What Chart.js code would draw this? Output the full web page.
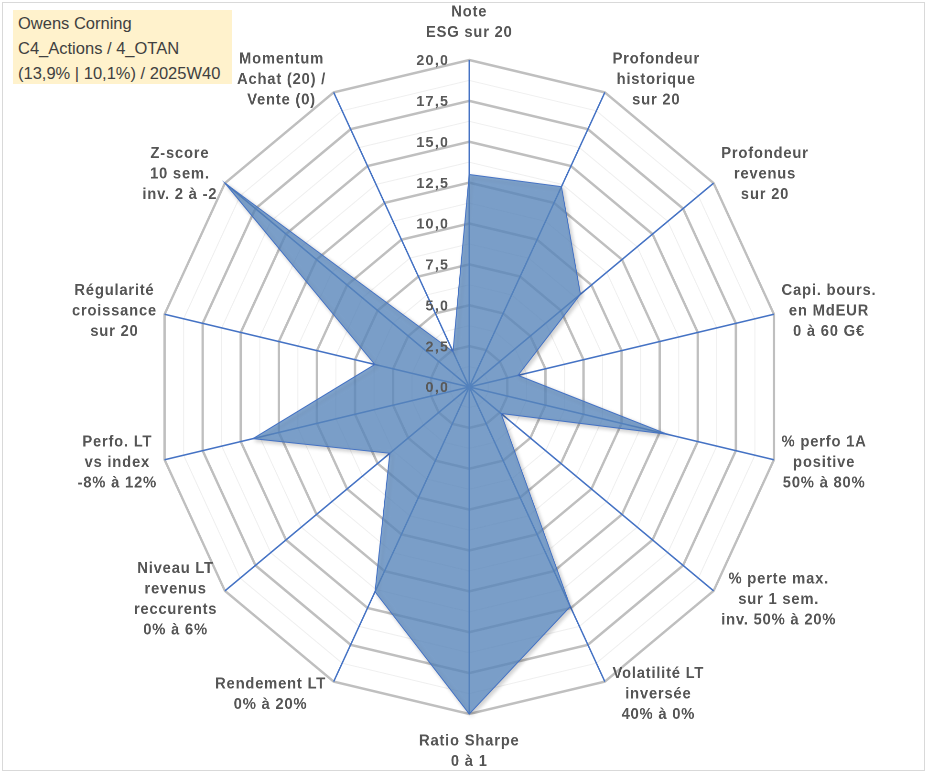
<!DOCTYPE html>
<html>
<head>
<meta charset="utf-8">
<script src="https://cdn.jsdelivr.net/npm/chart.js@4.4.1/dist/chart.umd.min.js"></script>
<style>
  html, body { margin: 0; padding: 0; background: #ffffff; }
  #page { position: relative; width: 933px; height: 776px; overflow: hidden; background: #ffffff; }
  #frame { position: absolute; left: 2px; top: 2px; width: 923px; height: 769px; border: 1px solid #D9D9D9; box-sizing: border-box; }
  #stage { position: absolute; left: 0; top: 0; width: 976px; height: 776px; transform: scaleX(0.9557); transform-origin: 0 0; }
  #chart { display: block; width: 976px; height: 776px; }
  #title { position: absolute; left: 13px; top: 10px; width: 219px; height: 74px; background: #FFF2CC;
           font-family: "Liberation Sans", Arial, sans-serif; font-size: 16.5px; color: #404040;
           line-height: 25px; padding: 1px 0 0 5px; box-sizing: border-box; white-space: nowrap; }
</style>
</head>
<body>
<div id="page">
  <div id="frame"></div>
  <div id="stage"><canvas id="chart" width="976" height="776"></canvas></div>
  <div id="title"></div>
</div>
<script>
// ---- data ----
const titleLines = ['Owens Corning', 'C4_Actions / 4_OTAN', '(13,9% | 10,1%) / 2025W40'];
const categories = [
  ['Note', 'ESG sur 20'],
  ['Profondeur', 'historique', 'sur 20'],
  ['Profondeur', 'revenus', 'sur 20'],
  ['Capi. bours.', 'en MdEUR', '0 à 60 G€'],
  ['% perfo 1A', 'positive', '50% à 80%'],
  ['% perte max.', 'sur 1 sem.', 'inv. 50% à 20%'],
  ['Volatilité LT', 'inversée', '40% à 0%'],
  ['Ratio Sharpe', '0 à 1'],
  ['Rendement LT', '0% à 20%'],
  ['Niveau LT', 'revenus', 'reccurents', '0% à 6%'],
  ['Perfo. LT', 'vs index', '-8% à 12%'],
  ['Régularité', 'croissance', 'sur 20'],
  ['Z-score', '10 sem.', 'inv. 2 à -2'],
  ['Momentum', 'Achat (20) /', 'Vente (0)']
];
const scores = [13.0, 13.6, 9.1, 3.2, 13.0, 2.6, 14.9, 20.0, 13.9, 6.5, 14.2, 6.2, 20.0, 2.4];
const tickValues = [0, 2.5, 5, 7.5, 10, 12.5, 15, 17.5, 20];
const tickLabels = ['0,0', '2,5', '5,0', '7,5', '10,0', '12,5', '15,0', '17,5', '20,0'];

document.getElementById('title').innerHTML = titleLines.map(t => '<div>' + t + '</div>').join('');

const FONT = '"Liberation Sans", Arial, sans-serif';

const shadowPlugin = {
  id: 'seriesShadow',
  beforeDatasetsDraw(chart) {
    const ctx = chart.ctx;
    const r = chart.currentDevicePixelRatio || 1;
    ctx.save();
    ctx.shadowColor = 'rgba(0,0,0,0.25)';
    ctx.shadowBlur = 4 * r;
    ctx.shadowOffsetX = 2 * r;
    ctx.shadowOffsetY = 2 * r;
  },
  afterDatasetsDraw(chart) {
    chart.ctx.restore();
  }
};

const textPlugin = {
  id: 'axisText',
  afterDatasetsDraw(chart) {
    const scale = chart.scales.r;
    const ctx = chart.ctx;
    ctx.save();
    // value ticks
    ctx.font = 'bold 15px ' + FONT;
    if ('letterSpacing' in ctx) ctx.letterSpacing = '1.3px';
    ctx.fillStyle = '#595959';
    ctx.textAlign = 'right';
    ctx.textBaseline = 'middle';
    tickValues.forEach((v, i) => {
      const d = scale.getDistanceFromCenterForValue(v);
      ctx.fillText(tickLabels[i], scale.xCenter - 21, scale.yCenter - d + 1);
    });
    // axis (point) labels, centred multi-line
    ctx.font = 'bold 15.5px ' + FONT;
    if ('letterSpacing' in ctx) ctx.letterSpacing = '0.8px';
    ctx.fillStyle = '#555555';
    ctx.textAlign = 'center';
    const lh = 20.5;
    categories.forEach((lines, i) => {
      const p = scale.getPointPosition(i, scale.drawingArea);
      const a = scale.getIndexAngle(i);
      const s = Math.sin(a), c = Math.cos(a);
      const w = Math.max(...lines.map(l => ctx.measureText(l).width));
      const h = lines.length * lh;
      let cx, cy;
      if (Math.abs(s) < 0.05) {
        cx = p.x;
        cy = p.y - Math.sign(c) * (h / 2 + 17);
      } else {
        cx = p.x + Math.sign(s) * (w / 2 + 8);
        cy = p.y - c * 14;
      }
      lines.forEach((l, k) => ctx.fillText(l, cx, cy - h / 2 + lh * (k + 0.5)));
    });
    ctx.restore();
  }
};

new Chart(document.getElementById('chart'), {
  type: 'radar',
  data: {
    labels: categories,
    datasets: [{
      data: scores,
      backgroundColor: 'rgba(94,142,198,0.75)',
      borderColor: '#4472C4',
      borderWidth: 1,
      pointRadius: 0,
      pointHoverRadius: 0,
      fill: true,
      tension: 0
    }]
  },
  options: {
    responsive: false,
    devicePixelRatio: 2,
    animation: false,
    layout: { padding: { top: 60, bottom: 62, left: 164, right: 158 } },
    plugins: { legend: { display: false }, tooltip: { enabled: false } },
    scales: {
      r: {
        min: 0,
        max: 20,
        ticks: { stepSize: 1.25, display: false },
        pointLabels: { display: false },
        grid: {
          color: ctx => (ctx.index % 2 === 0 ? '#BFBFBF' : '#EFEFEF'),
          lineWidth: ctx => (ctx.index % 2 === 0 ? 2.5 : 1)
        },
        angleLines: { color: '#4472C4', lineWidth: 1.5 }
      }
    }
  },
  plugins: [shadowPlugin, textPlugin]
});
</script>
</body>
</html>
